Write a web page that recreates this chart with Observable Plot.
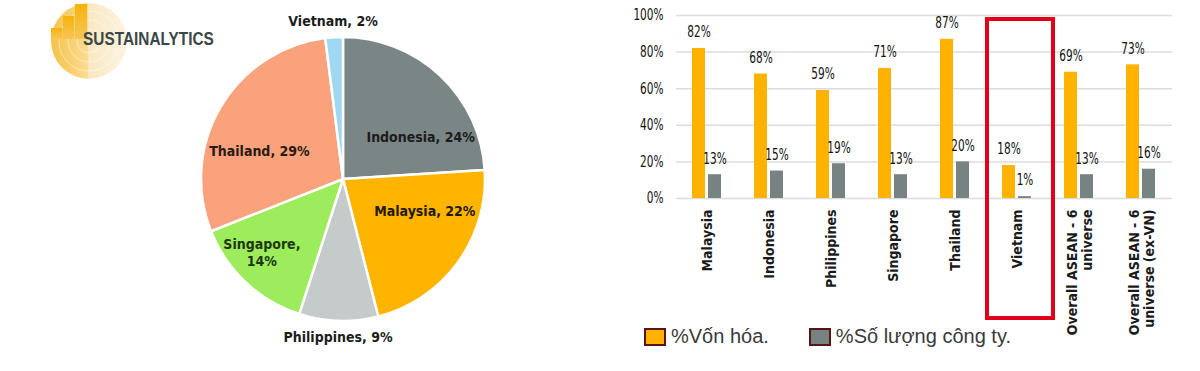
<!DOCTYPE html>
<html><head><meta charset="utf-8">
<script src="https://cdn.jsdelivr.net/npm/d3@7"></script>
<script src="https://cdn.jsdelivr.net/npm/@observablehq/plot@0.6"></script>
<style>
html,body{margin:0;padding:0;background:#fff;}
#root{position:relative;width:1200px;height:371px;overflow:hidden;background:#fff;}
#pie{position:absolute;left:0;top:0;}
#bars{position:absolute;left:600px;top:0;}
#logo{position:absolute;left:0;top:0;}
#logotext{position:absolute;left:83px;top:29px;font-family:"Liberation Sans",Arial,sans-serif;font-weight:bold;font-size:19px;line-height:20px;color:#3b4747;transform:scaleX(0.81);transform-origin:0 0;white-space:nowrap;}
#legend{position:absolute;left:644px;top:325px;display:flex;align-items:center;font-family:"Liberation Sans",Arial,sans-serif;font-size:20px;color:#3a3a3a;}
#legend .item{display:flex;align-items:center;margin-right:40px;}
#legend .sw{width:18px;height:14px;border:2.5px solid #5a1414;margin-right:5px;}
</style></head><body>
<div id="root">
  <div id="pie"></div>
  <div id="bars"></div>
  <svg id="logo" width="140" height="90">
    <defs>
      <linearGradient id="lg1" x1="0" x2="1" y1="0" y2="0">
        <stop offset="0" stop-color="#f5c24c"/>
        <stop offset="0.49" stop-color="#fbdc91"/>
        <stop offset="0.51" stop-color="#fae8c2"/>
        <stop offset="1" stop-color="#fdf3e1"/>
      </linearGradient>
      <linearGradient id="lg2" x1="0" x2="0" y1="0" y2="1">
        <stop offset="0" stop-color="#f6b20a"/>
        <stop offset="1" stop-color="#f8c555"/>
      </linearGradient>
    </defs>
    <circle cx="89" cy="41" r="38" fill="url(#lg1)"/>
    <circle cx="89" cy="41" r="30" fill="none" stroke="#fff" stroke-opacity="0.45" stroke-width="1"/>
    <circle cx="89" cy="41" r="21" fill="none" stroke="#fff" stroke-opacity="0.45" stroke-width="1"/>
    <circle cx="89" cy="41" r="12" fill="none" stroke="#fff" stroke-opacity="0.45" stroke-width="1"/>
    <line x1="89" y1="3" x2="89" y2="79" stroke="#fff" stroke-opacity="0.5"/>
    <rect x="51" y="28" width="11" height="11" fill="url(#lg2)"/>
    <rect x="63" y="16" width="11" height="23" fill="url(#lg2)"/>
    <rect x="75" y="4" width="12" height="35" fill="url(#lg2)"/>
  </svg>
  <div id="logotext">SUSTAINALYTICS</div>
  <div id="legend"></div>
</div>
<script>
// ---------- data ----------
const pieCountries = ["Indonesia", "Malaysia", "Philippines", "Singapore", "Thailand", "Vietnam"];
const pieShares = [24, 22, 9, 14, 29, 2];
const pieColors = ["#7a8585", "#ffb400", "#c5cbca", "#9cec5b", "#f9a27c", "#9fd8f0"];
const pieLabelColors = ["#1c1c1c", "#221a08", "#1c1c1c", "#1d3610", "#2a1a12", "#1c1c1c"];
const pieLabels = ["Indonesia, 24%", "Malaysia, 22%", "Philippines, 9%", "Singapore,\n14%", "Thailand, 29%", "Vietnam, 2%"];

const barCategories = ["Malaysia", "Indonesia", "Philippines", "Singapore", "Thailand", "Vietnam",
  "Overall ASEAN - 6\nuniverse", "Overall ASEAN - 6\nuniverse (ex-VN)"];
const marketCapPct = [82, 68, 59, 71, 87, 18, 69, 73];
const companyCountPct = [13, 15, 19, 13, 20, 1, 13, 16];
const seriesNames = ["%Vốn hóa.", "%Số lượng công ty."];
const seriesColors = ["#ffb300", "#778383"];
const yTicks = [0, 20, 40, 60, 80, 100];
const highlighted = "Vietnam";

// ---------- pie ----------
const pieData = pieCountries.map((c, i) => ({country: c, share: pieShares[i], label: pieLabels[i], ink: pieLabelColors[i]}));
const pieColor = Plot.scale({color: {type: "ordinal", domain: pieCountries, range: pieColors}});
const cx = 343, cy = 179, R = 142;
const arcs = d3.pie().sort(null).value(d => d.share)(pieData);
const arcGen = d3.arc().innerRadius(0).outerRadius(R);

const pieMark = () => {
  const g = d3.create("svg:g").attr("transform", `translate(${cx},${cy})`);
  g.selectAll("path").data(arcs).join("path")
    .attr("d", arcGen)
    .attr("fill", d => pieColor.apply(d.data.country))
    .attr("stroke", "#fff").attr("stroke-width", 2.5).attr("stroke-linejoin", "round");
  const lab = g.selectAll("text").data(arcs).join("text")
    .attr("font-family", "'DejaVu Sans Condensed','DejaVu Sans',sans-serif")
    .attr("font-weight", "bold")
    .attr("font-size", 14)
    .attr("fill", d => d.data.ink)
    .attr("text-anchor", "middle")
    .attr("transform", d => {
      let a = (d.startAngle + d.endAngle) / 2;
      let r;
      if (d.data.share < 10) { r = R + 16; }
      else {
        const h = a < Math.PI ? Math.PI / 2 : 3 * Math.PI / 2;
        const big = d.data.share >= 20;
        a = a + (big ? 0.4 : 0.1) * (h - a);
        r = R * (big ? 0.62 : 0.77);
      }
      return `translate(${r * Math.sin(a)},${-r * Math.cos(a)})`;
    });
  lab.each(function(d) {
    const lines = d.data.label.split("\n");
    const t = d3.select(this);
    lines.forEach((l, i) => {
      t.append("tspan").attr("x", 0)
        .attr("y", (i - (lines.length - 1) / 2) * 17)
        .attr("dy", "0.35em").text(l);
    });
  });
  return g.node();
};

const pie = Plot.plot({
  width: 600, height: 371, margin: 0,
  x: {domain: [0, 600], axis: null},
  y: {domain: [0, 371], axis: null},
  style: {background: "transparent"},
  marks: [pieMark]
});
document.getElementById("pie").append(pie);

// ---------- bars ----------
const rows = barCategories.flatMap((c, i) => [
  {cat: c, series: seriesNames[0], value: marketCapPct[i]},
  {cat: c, series: seriesNames[1], value: companyCountPct[i]}
]);
const narrow = "'DejaVu Sans Condensed','DejaVu Sans',sans-serif";
const bars = Plot.plot({
  width: 600, height: 345,
  marginLeft: 76, marginRight: 28, marginTop: 15, marginBottom: 147,
  style: {background: "transparent", fontFamily: narrow, color: "#1a1a1a"},
  fx: {domain: barCategories, padding: 0, label: null},
  x: {domain: seriesNames, paddingInner: 0.18, paddingOuter: 0.97, axis: null},
  y: {domain: [0, 100], label: null},
  color: {domain: seriesNames, range: seriesColors},
  marks: [
    Plot.gridY(yTicks, {stroke: "#dcdcdc", strokeOpacity: 1, strokeWidth: 1.5}),
    Plot.barY(rows, {fx: "cat", x: "series", y: "value", fill: "series"}),
    Plot.text(rows, {fx: "cat", x: "series", y: "value", text: d => d.value + "%", dy: -16,
      fontSize: 15, fill: "#111", fontFamily: narrow}),
    Plot.axisY(yTicks, {tickFormat: d => d + "%", tickSize: 0, tickPadding: 13, fontSize: 15,
      label: null, fill: "#111", fontFamily: narrow}),
    Plot.axisFx({anchor: "bottom", tickRotate: -90, tickSize: 0, tickPadding: 11, fontSize: 14,
      fontWeight: "bold", fontFamily: narrow, label: null, lineHeight: 1.05, fill: "#1a1a1a"})
  ]
});
document.getElementById("bars").append(bars);

// narrow the numeric labels like the reference's condensed face
d3.select(bars).selectAll('g[aria-label="text"] text, g[aria-label="y-axis tick label"] text').each(function() {
  const len = this.getComputedTextLength();
  this.setAttribute("textLength", (len * 0.78).toFixed(1));
  this.setAttribute("lengthAdjust", "spacingAndGlyphs");
});

// highlight box around Vietnam, positioned from the fx and y scales
const fx = bars.scale("fx"), ys = bars.scale("y");
const bx = fx.apply(highlighted);
d3.select(bars).append("rect")
  .attr("x", bx + 1).attr("width", fx.bandwidth + 4)
  .attr("y", ys.apply(100) + 4).attr("height", ys.apply(0) - ys.apply(100) + 116)
  .attr("fill", "none").attr("stroke", "#e0001a").attr("stroke-width", 4);

// legend
const leg = d3.select("#legend");
seriesNames.forEach((s, i) => {
  const it = leg.append("div").attr("class", "item");
  it.append("div").attr("class", "sw").style("background", seriesColors[i]);
  it.append("span").text(s);
});
</script>
</body></html>
